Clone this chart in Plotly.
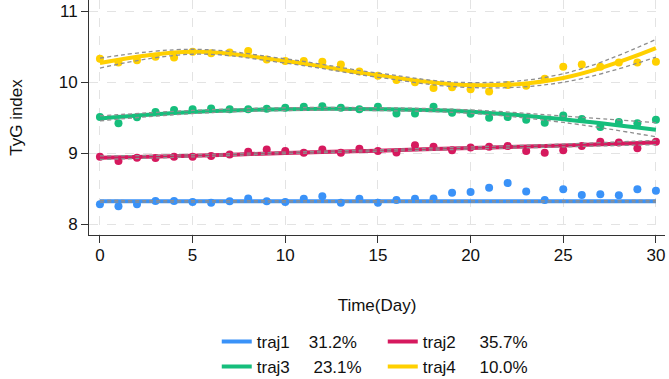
import plotly.graph_objects as go

days = list(range(31))

traj1_pts = [8.28, 8.25, 8.28, 8.325, 8.325, 8.31, 8.30, 8.32, 8.36, 8.32, 8.31,
             8.355, 8.39, 8.30, 8.355, 8.30, 8.34, 8.355, 8.36, 8.44, 8.45,
             8.51, 8.58, 8.46, 8.34, 8.49, 8.41, 8.42, 8.405, 8.49, 8.47]
traj2_pts = [8.95, 8.89, 8.935, 8.93, 8.95, 8.95, 8.96, 8.98, 9.02, 9.05, 9.03,
             9.005, 9.05, 9.005, 9.06, 9.03, 9.01, 9.11, 9.09, 9.04, 9.08,
             9.09, 9.10, 9.03, 9.005, 9.04, 9.10, 9.16, 9.15, 9.07, 9.16]
traj3_pts = [9.51, 9.42, 9.505, 9.58, 9.61, 9.62, 9.63, 9.62, 9.62, 9.625, 9.64,
             9.655, 9.66, 9.64, 9.62, 9.655, 9.56, 9.56, 9.655, 9.57, 9.555,
             9.50, 9.51, 9.47, 9.43, 9.53, 9.48, 9.37, 9.44, 9.42, 9.47]
traj4_pts = [10.33, 10.28, 10.31, 10.36, 10.35, 10.43, 10.41, 10.42, 10.44, 10.32, 10.30,
             10.30, 10.29, 10.25, 10.15, 10.09, 10.03, 10.00, 9.92, 9.93, 9.90,
             9.87, 9.96, 9.95, 10.05, 10.22, 10.25, 10.22, 10.28, 10.28, 10.29]

fit_days = [0, 5, 10, 15, 20, 25, 30]
traj1_fit = [8.32, 8.32, 8.32, 8.32, 8.32, 8.32, 8.32]
traj2_fit = [8.935, 8.962, 9.003, 9.035, 9.072, 9.108, 9.15]
traj3_fit = [9.49, 9.58, 9.62, 9.62, 9.585, 9.478, 9.33]
traj4_fit = [10.27, 10.43, 10.30, 10.10, 9.96, 10.06, 10.48]

traj1_ci = [0.012, 0.01, 0.01, 0.01, 0.01, 0.01, 0.012]
traj2_ci = [0.025, 0.015, 0.012, 0.012, 0.015, 0.02, 0.03]
traj3_ci = [0.035, 0.022, 0.02, 0.02, 0.025, 0.045, 0.10]
traj4_ci = [0.07, 0.035, 0.03, 0.03, 0.035, 0.06, 0.125]

names = ["traj1\u00a0\u00a0\u00a0\u00a031.2%", "traj2\u00a0\u00a0\u00a0\u00a0\u00a035.7%",
         "traj3\u00a0\u00a0\u00a0\u00a0\u00a023.1%", "traj4\u00a0\u00a0\u00a0\u00a0\u00a010.0%"]
colors = ["#3A92F8", "#D6195E", "#16BE7C", "#FFD000"]
legends = ["legend", "legend", "legend2", "legend2"]

pts = [traj1_pts, traj2_pts, traj3_pts, traj4_pts]
fits = [traj1_fit, traj2_fit, traj3_fit, traj4_fit]
cis = [traj1_ci, traj2_ci, traj3_ci, traj4_ci]

fig = go.Figure()

# points
for p, c in zip(pts, colors):
    fig.add_trace(go.Scatter(x=days, y=p, mode="markers",
                             marker=dict(color=c, size=8), showlegend=False,
                             hoverinfo="skip", cliponaxis=False))
# fitted lines
for f, c, n, lg in zip(fits, colors, names, legends):
    fig.add_trace(go.Scatter(x=fit_days, y=f, mode="lines", name=n,
                             line=dict(color=c, width=4, shape="spline", smoothing=1.1),
                             legend=lg))
# CI dashed lines
for f, ci in zip(fits, cis):
    up = [a + b for a, b in zip(f, ci)]
    lo = [a - b for a, b in zip(f, ci)]
    for yv in (up, lo):
        fig.add_trace(go.Scatter(x=fit_days, y=yv, mode="lines", showlegend=False,
                                 line=dict(color="#8E8E8E", width=1.3, dash="4px,3px",
                                           shape="spline", smoothing=1.1),
                                 hoverinfo="skip"))

font = "Arial, Liberation Sans, sans-serif"
fig.update_layout(
    width=669, height=379,
    margin=dict(l=89, r=4, t=0, b=144, autoexpand=False),
    paper_bgcolor="white", plot_bgcolor="white",
    font=dict(family=font, size=17, color="#111"),
    xaxis=dict(range=[-0.59, 30.49], tickvals=[0, 5, 10, 15, 20, 25, 30],
               showgrid=True, gridcolor="#E3E3E3", griddash="dash", gridwidth=1,
               showline=True, linecolor="#333", linewidth=1,
               ticks="outside", ticklen=7, tickcolor="#333", automargin=False,
               zeroline=False, tickfont=dict(size=17), ticklabelstandoff=-2,
               title=dict(text="Time(Day)", font=dict(size=17), standoff=34)),
    yaxis=dict(range=[7.845, 11.16], tickvals=[8, 9, 10, 11],
               showgrid=True, gridcolor="#E3E3E3", griddash="dash", gridwidth=1,
               showline=True, linecolor="#333", linewidth=1,
               ticks="outside", ticklen=7, tickcolor="#333", automargin=False,
               zeroline=False, tickfont=dict(size=17),
               title=dict(text="TyG index", font=dict(size=17), standoff=31)),
    legend=dict(orientation="h", xref="container", yref="container",
                x=0.324, y=1 - 342 / 379, xanchor="left", yanchor="middle",
                entrywidth=121, font=dict(size=17), bgcolor="rgba(0,0,0,0)",
                itemwidth=30),
    legend2=dict(orientation="h", xref="container", yref="container",
                 x=0.324, y=1 - 367 / 379, xanchor="left", yanchor="middle",
                 entrywidth=121, font=dict(size=17), bgcolor="rgba(0,0,0,0)",
                 itemwidth=30),
)

fig.write_html("out.html", config={"displayModeBar": False},
               post_script="document.body.style.margin='0';document.body.style.overflow='hidden';")
